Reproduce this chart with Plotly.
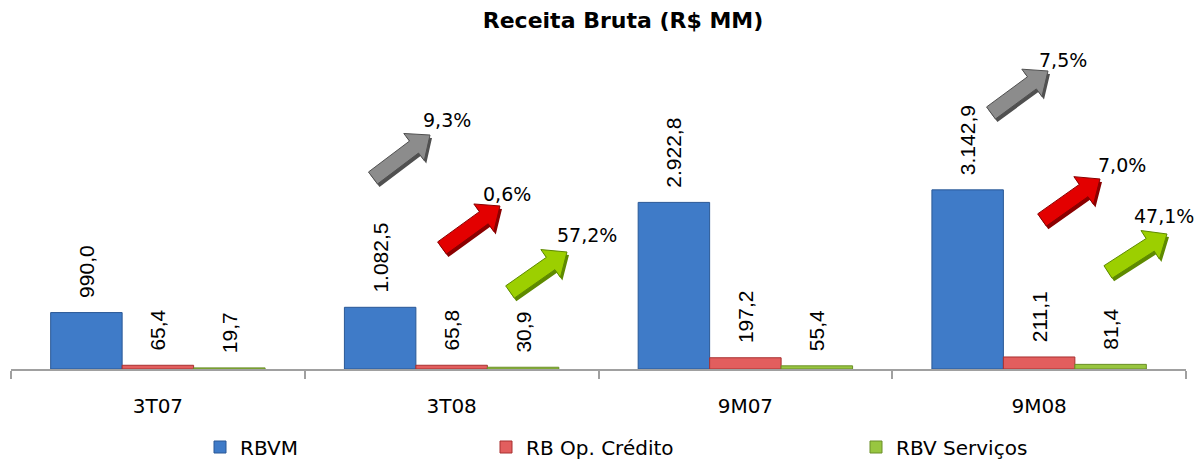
import math
import plotly.graph_objects as go

categories = ["3T07", "3T08", "9M07", "9M08"]
rbvm = [990.0, 1082.5, 2922.8, 3142.9]
rb_op_credito = [65.4, 65.8, 197.2, 211.1]
rbv_servicos = [19.7, 30.9, 55.4, 81.4]
series_names = ["RBVM", "RB Op. Crédito", "RBV Serviços"]
growth_3t08 = ["9,3%", "0,6%", "57,2%"]
growth_9m08 = ["7,5%", "7,0%", "47,1%"]

W, H = 1203, 463
L, R, T, B = 11, 17, 27, 94
PW, PH = W - L - R, H - T - B
HFONT = "DejaVu Sans, Verdana, sans-serif"
VFONT = "Liberation Sans, Arial, sans-serif"


def fmt(v):
    s = f"{v:,.1f}"
    return s.replace(",", "X").replace(".", ",").replace("X", ".")


fig = go.Figure()
styles = [("#3f7bc8", "#2a5896"), ("#e25e5e", "#a83030"), ("#98c640", "#6a8f28")]
legend_ids = ["legend", "legend2", "legend3"]
for name, vals, (fc, lc), lg in zip(series_names, [rbvm, rb_op_credito, rbv_servicos], styles, legend_ids):
    fig.add_trace(go.Bar(
        x=categories, y=vals, name=name, legend=lg, showlegend=True,
        marker=dict(color=fc, line=dict(color=lc, width=1)),
        text=["\u00a0\u00a0" + fmt(v) for v in vals], textposition="outside", textangle=-90,
        constraintext="none",
        textfont=dict(size=21, color="black", family=VFONT),
        cliponaxis=False,
    ))


def px2paper(x, y):
    return (x - L) / PW, (H - B - y) / PH


def arrow_path(tail, tip, w=7.5, hw=17, hl=20):
    dx, dy = tip[0] - tail[0], tip[1] - tail[1]
    ln = math.hypot(dx, dy)
    ux, uy = dx / ln, dy / ln
    nx, ny = -uy, ux
    bx, by = tip[0] - ux * hl, tip[1] - uy * hl
    pts = [
        (tail[0] + nx * w, tail[1] + ny * w),
        (bx + nx * w, by + ny * w),
        (bx + nx * hw, by + ny * hw),
        tip,
        (bx - nx * hw, by - ny * hw),
        (bx - nx * w, by - ny * w),
        (tail[0] - nx * w, tail[1] - ny * w),
    ]
    pp = [px2paper(*p) for p in pts]
    return "M " + " L ".join(f"{a:.5f},{b:.5f}" for a, b in pp) + " Z"


arrow_colors = [("#8c8c8c", "#505050"), ("#e30000", "#8a0000"), ("#9ccf00", "#5e8a00")]
# (tail px, tip px, label center px, colour index)
arrows = [
    ((373, 178), (430, 135), (447, 120), 0),
    ((442, 248), (500, 206), (507, 194), 1),
    ((510, 292), (567, 252), (587, 235), 2),
    ((991, 113), (1048, 71), (1063, 60), 0),
    ((1042, 220), (1100, 179), (1122, 165), 1),
    ((1108, 272), (1167, 234), (1164, 216), 2),
]
labels = growth_3t08 + growth_9m08
shapes = []
annotations = []
for (tail, tip, lab, ci), text in zip(arrows, labels):
    fc, dc = arrow_colors[ci]
    shapes.append(dict(type="path", xref="paper", yref="paper",
                       path=arrow_path((tail[0] + 2, tail[1] + 3), (tip[0] + 2, tip[1] + 3)),
                       fillcolor=dc, line=dict(width=0)))
    shapes.append(dict(type="path", xref="paper", yref="paper",
                       path=arrow_path(tail, tip), fillcolor=fc, line=dict(color=dc, width=1)))
    lx, ly = px2paper(*lab)
    annotations.append(dict(x=lx, y=ly, xref="paper", yref="paper", text=text, showarrow=False,
                            xanchor="center", yanchor="middle",
                            font=dict(size=19, color="black", family=HFONT)))

legend_y = (H - B - 447) / PH
legend_common = dict(orientation="h", xanchor="left", y=legend_y, yanchor="middle",
                     font=dict(size=20, family=HFONT, color="black"), itemwidth=30,
                     bgcolor="rgba(0,0,0,0)", visible=True)

fig.update_layout(
    width=W, height=H,
    margin=dict(l=L, r=R, t=T, b=B, autoexpand=False),
    paper_bgcolor="white", plot_bgcolor="white",
    showlegend=True,
    barmode="group", bargap=0.27, bargroupgap=0,
    title=dict(text="<b>Receita Bruta (R$ MM)</b>", x=623 / W, xanchor="center",
               y=1 - 20 / H, yanchor="middle", yref="container",
               font=dict(size=22, color="black", family=HFONT)),
    font=dict(family=HFONT, size=20, color="black"),
    xaxis=dict(showline=True, linecolor="#a0a0a0", linewidth=2, ticks="outside",
               tickson="boundaries", ticklen=8, tickwidth=1.5, tickcolor="#a0a0a0",
               tickfont=dict(size=20, family=HFONT), showgrid=False,
               ticklabelstandoff=18, automargin=False),
    yaxis=dict(range=[0, 6000], visible=False),
    legend=dict(x=(200 - L) / PW, **legend_common),
    legend2=dict(x=(486 - L) / PW, **legend_common),
    legend3=dict(x=(856 - L) / PW, **legend_common),
    shapes=shapes, annotations=annotations,
)
fig.write_html("out.html", config={"displayModeBar": False},
               post_script="document.body.style.margin='0';document.body.style.overflow='hidden';")
